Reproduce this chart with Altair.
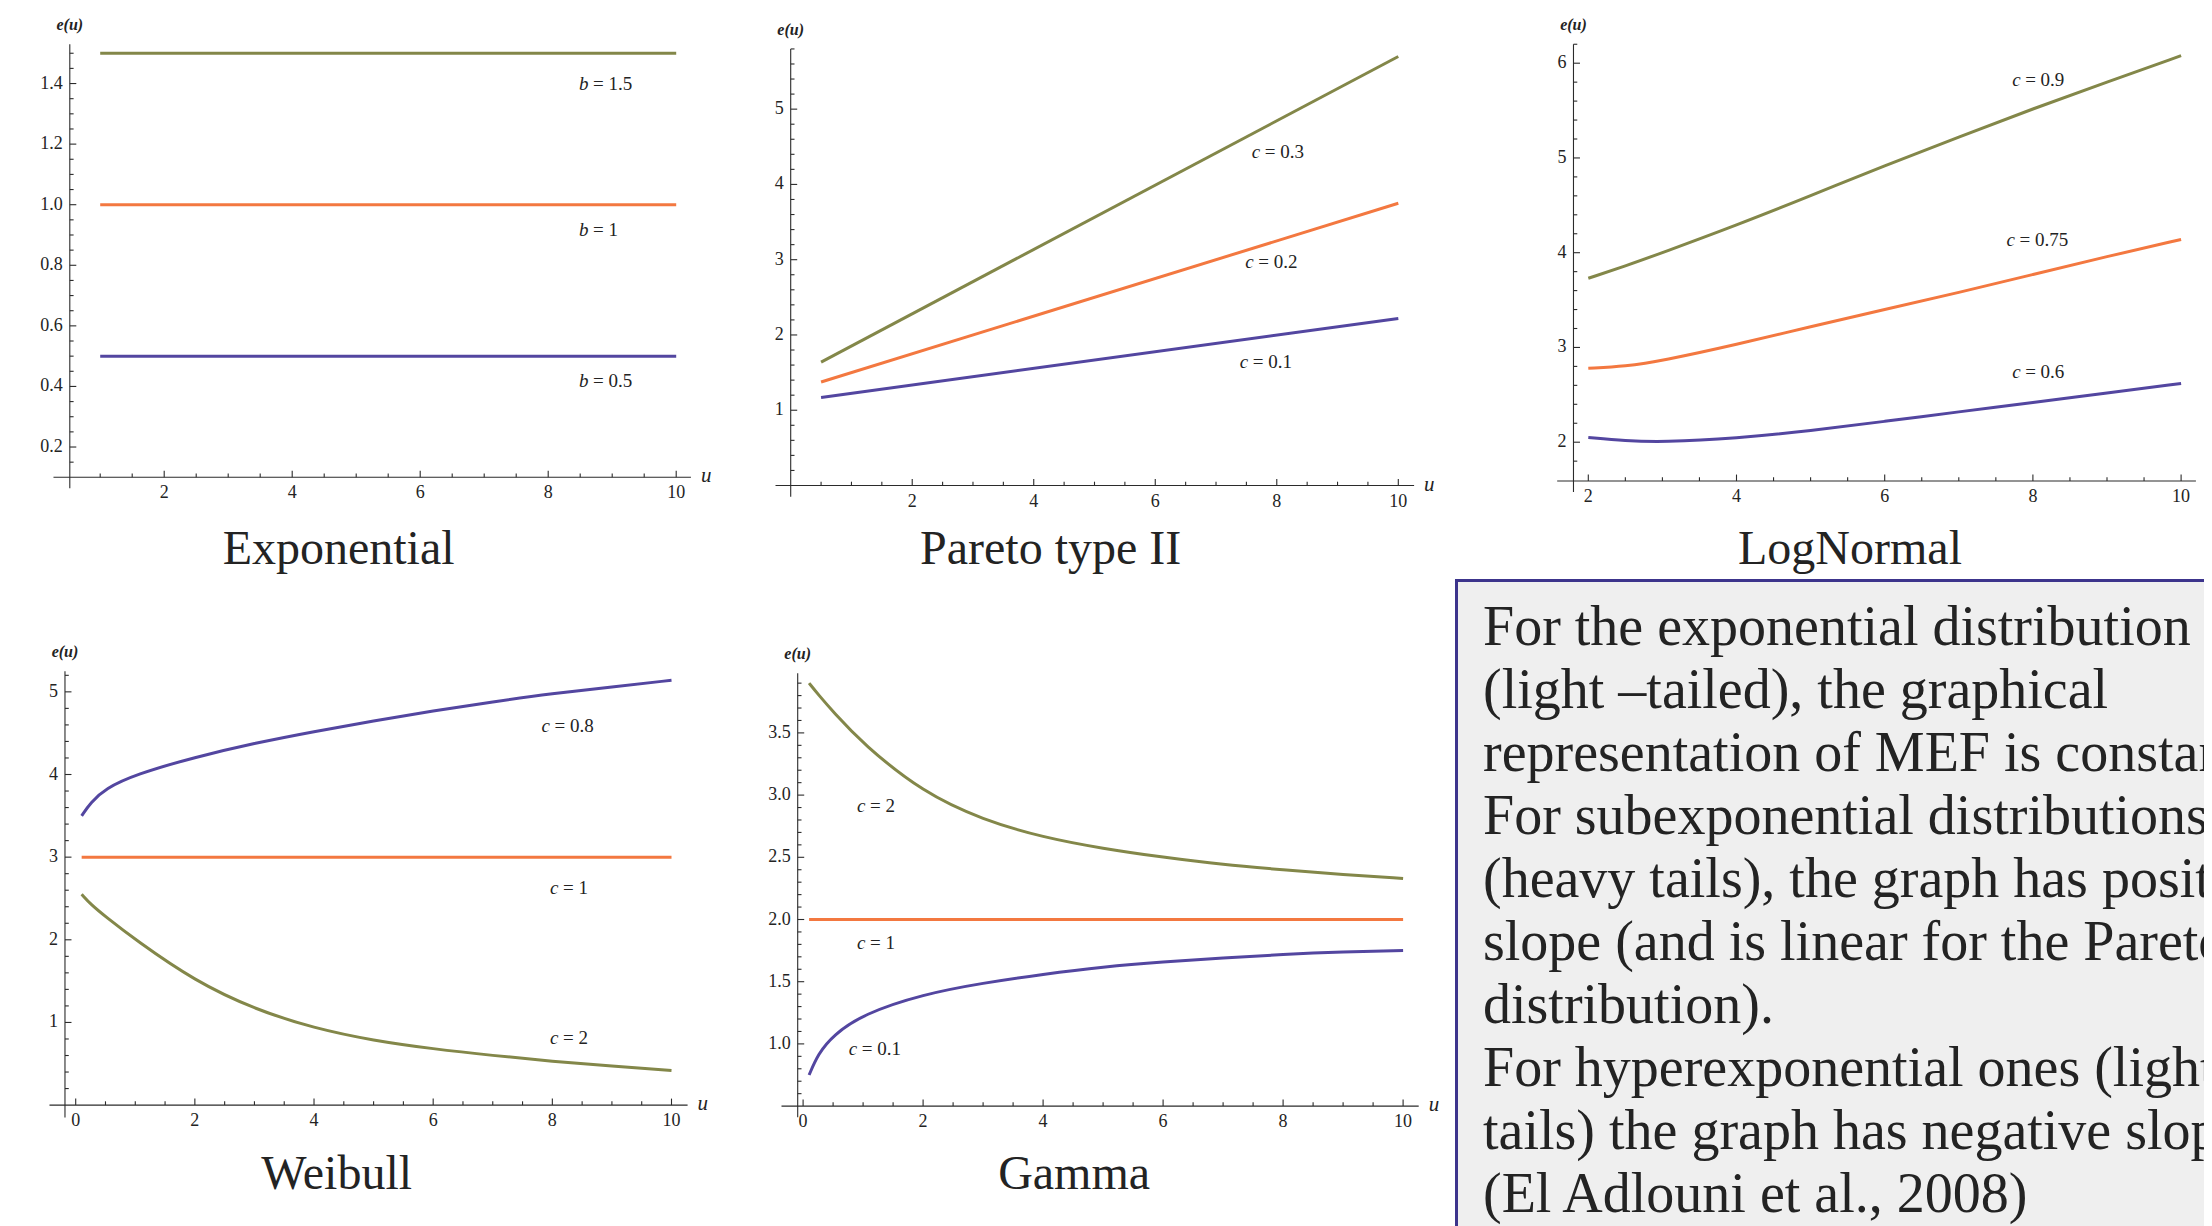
import altair as alt
import pandas as pd

FONT = "Liberation Serif"
INK = "#232323"
AX = "#2b2b2b"
OLIVE, ORANGE, BLUE = "#838749", "#f37840", "#5346a0"
BOX_FILL, BOX_EDGE = "#efefef", "#3c348c"

# ---------------- series values ----------------
exp_u = [1, 10]
exp_b15 = [1.5, 1.5]
exp_b1 = [1.0, 1.0]
exp_b05 = [0.5, 0.5]

par_u = [0.5, 10]
par_c03 = [1.64, 5.70]
par_c02 = [1.375, 3.75]
par_c01 = [1.17, 2.22]

ln_u = [2, 2.5, 3, 4, 5, 6, 7, 8, 9, 10]
ln_c09 = [3.73, 3.86, 4.00, 4.29, 4.60, 4.92, 5.22, 5.52, 5.80, 6.08]
ln_c075 = [2.78, 2.80, 2.86, 3.03, 3.22, 3.40, 3.58, 3.77, 3.96, 4.14]
ln_c06 = [2.05, 2.015, 2.00, 2.04, 2.12, 2.22, 2.32, 2.42, 2.52, 2.62]

wb_u = [0.1, 0.25, 0.5, 1, 2, 3, 4, 5, 6, 7, 8, 9, 10]
wb_c08 = [3.50, 3.66, 3.83, 4.00, 4.21, 4.38, 4.52, 4.65, 4.77, 4.88, 4.98, 5.06, 5.14]
wb_c2 = [2.55, 2.43, 2.28, 2.00, 1.50, 1.16, 0.93, 0.78, 0.68, 0.60, 0.53, 0.47, 0.42]
wb_flat_u = [0.1, 10]
wb_c1 = [3.0, 3.0]

gm_u = [0.1, 0.25, 0.5, 1, 2, 3, 4, 5, 6, 7, 8, 9, 10]
gm_c2 = [3.90, 3.81, 3.67, 3.41, 3.02, 2.80, 2.66, 2.57, 2.50, 2.44, 2.40, 2.36, 2.33]
gm_c01 = [0.75, 0.92, 1.07, 1.24, 1.40, 1.49, 1.56, 1.62, 1.66, 1.69, 1.72, 1.74, 1.75]
gm_flat_u = [0.1, 10]
gm_c1 = [2.0, 2.0]

# ---------------- labels ----------------
exp_curve_labels = [("b", "= 1.5"), ("b", "= 1"), ("b", "= 0.5")]
par_curve_labels = [("c", "= 0.3"), ("c", "= 0.2"), ("c", "= 0.1")]
ln_curve_labels = [("c", "= 0.9"), ("c", "= 0.75"), ("c", "= 0.6")]
wb_curve_labels = [("c", "= 0.8"), ("c", "= 1"), ("c", "= 2")]
gm_curve_labels = [("c", "= 2"), ("c", "= 1"), ("c", "= 0.1")]

exp_xticks = [2, 4, 6, 8, 10]
exp_yticks = [0.2, 0.4, 0.6, 0.8, 1.0, 1.2, 1.4]
par_xticks = [2, 4, 6, 8, 10]
par_yticks = [1, 2, 3, 4, 5]
ln_xticks = [2, 4, 6, 8, 10]
ln_yticks = [2, 3, 4, 5, 6]
wb_xticks = [0, 2, 4, 6, 8, 10]
wb_yticks = [1, 2, 3, 4, 5]
gm_xticks = [0, 2, 4, 6, 8, 10]
gm_yticks = [1.0, 1.5, 2.0, 2.5, 3.0, 3.5]

panel_titles = ["Exponential", "Pareto type II", "LogNormal", "Weibull", "Gamma"]

box_lines = [
    "For the exponential distribution",
    "(light \u2013tailed), the graphical",
    "representation of MEF is constant.",
    "For subexponential distributions",
    "(heavy tails), the graph has positive",
    "slope (and is linear for the Pareto",
    "distribution).",
    "For hyperexponential ones (light",
    "tails) the graph has negative slope",
    "(El Adlouni et al., 2008)",
]


def steps(start, stop, step, skip=()):
    n = int(round((stop - start) / step))
    out = []
    for k in range(n + 1):
        v = round(start + k * step, 4)
        if all(abs(v - s) > 1e-6 for s in skip):
            out.append(v)
    return out


def fmt1(v):
    return f"{v:.1f}"


def fmti(v):
    return f"{int(v)}"


def panel(sp):
    L, T, W, H = sp["box"]
    a, b, c, d = sp["cal"]
    xs = alt.Scale(domain=[(L - a) / b, (L + W - a) / b], nice=False, zero=False)
    ys = alt.Scale(domain=[(c - T - H) / d, (c - T) / d], nice=False, zero=False)

    def X(f):
        return alt.X(f"{f}:Q", scale=xs, axis=None)

    def Y(f):
        return alt.Y(f"{f}:Q", scale=ys, axis=None)

    xa, ya = sp["origin"]
    x0, x1 = sp["xext"]
    y0, y1 = sp["yext"]

    rows = []
    for name, us, vs, col in sp["curves"]:
        for u, v in zip(us, vs):
            rows.append({"u": u, "v": v, "s": name, "col": col})
    curves = alt.Chart(pd.DataFrame(rows)).mark_line(
        strokeWidth=3, interpolate="basis", clip=True
    ).encode(x=X("u"), y=Y("v"), detail="s:N", color=alt.Color("col:N", scale=None))

    seg = [
        {"u": x0, "v": ya, "u2": x1, "v2": ya},
        {"u": xa, "v": y0, "u2": xa, "v2": y1},
    ]
    xmin = steps(sp["xminor"][0], sp["xminor"][1], sp["xminor"][2], sp["xticks"])
    ymin = steps(sp["yminor"][0], sp["yminor"][1], sp["yminor"][2], sp["yticks"])
    for t in sp["xticks"]:
        seg.append({"u": t, "v": ya, "u2": t, "v2": ya + 6.5 / d})
    for t in xmin:
        seg.append({"u": t, "v": ya, "u2": t, "v2": ya + 3.8 / d})
    for t in sp["yticks"]:
        seg.append({"u": xa, "v": t, "u2": xa + 6.5 / b, "v2": t})
    for t in ymin:
        seg.append({"u": xa, "v": t, "u2": xa + 3.8 / b, "v2": t})
    rules = alt.Chart(pd.DataFrame(seg)).mark_rule(
        color=AX, strokeWidth=1.1, clip=True
    ).encode(x=X("u"), y=Y("v"), x2=alt.X2("u2"), y2=alt.Y2("v2"))

    xl = pd.DataFrame({"u": sp["xticks"], "v": ya, "t": [fmti(v) for v in sp["xticks"]]})
    xtext = alt.Chart(xl).mark_text(
        font=FONT, fontSize=18, color=INK, baseline="top", dy=7, clip=True
    ).encode(x=X("u"), y=Y("v"), text="t:N")

    yl = pd.DataFrame({"u": xa, "v": sp["yticks"], "t": [sp["yfmt"](v) for v in sp["yticks"]]})
    ytext = alt.Chart(yl).mark_text(
        font=FONT, fontSize=18, color=INK, align="right", baseline="middle", dx=-7, clip=True
    ).encode(x=X("u"), y=Y("v"), text="t:N")

    eu = alt.Chart(pd.DataFrame([{"u": xa, "v": y1, "t": "e(u)"}])).mark_text(
        font=FONT, fontSize=16, fontStyle="italic", fontWeight="bold", color=INK,
        baseline="alphabetic", dy=-14, clip=True
    ).encode(x=X("u"), y=Y("v"), text="t:N")

    ul = alt.Chart(pd.DataFrame([{"u": x1, "v": ya, "t": "u"}])).mark_text(
        font=FONT, fontSize=21, fontStyle="italic", color=INK,
        align="left", baseline="alphabetic", dx=10, dy=5, clip=True
    ).encode(x=X("u"), y=Y("v"), text="t:N")

    lab = pd.DataFrame([
        {"u": p[0], "v": p[1], "l": txt[0], "r": txt[1]}
        for txt, p in zip(sp["labels"], sp["label_pos"])
    ])
    lab1 = alt.Chart(lab).mark_text(
        font=FONT, fontSize=19, fontStyle="italic", color=INK,
        align="left", baseline="middle", clip=True
    ).encode(x=X("u"), y=Y("v"), text="l:N")
    lab2 = alt.Chart(lab).mark_text(
        font=FONT, fontSize=19, color=INK, align="left", baseline="middle",
        dx=sp["label_gap"], clip=True
    ).encode(x=X("u"), y=Y("v"), text="r:N")

    ttl = alt.Chart(pd.DataFrame([{"u": sp["title_pos"][0], "v": sp["title_pos"][1],
                                   "t": sp["title"]}])).mark_text(
        font=FONT, fontSize=48, color=INK, align="center", baseline="alphabetic", clip=True
    ).encode(x=X("u"), y=Y("v"), text="t:N")

    return alt.layer(curves, rules, xtext, ytext, eu, ul, lab1, lab2, ttl).properties(
        width=W, height=H
    )


def box_panel(L, T, W, H):
    base0, lh = 645.0, 63.0
    xs = alt.Scale(domain=[0, 1], nice=False, zero=False)
    ys = alt.Scale(domain=[(T - base0) / lh, (T + H - base0) / lh], reverse=True,
                   nice=False, zero=False)
    xb = (1456.5 - L) / W
    yb = (580.4 - base0) / lh
    xt = (1483.0 - L) / W

    rect = alt.Chart(pd.DataFrame([{"x": xb, "x2": 2.0, "y": yb, "y2": 40.0}])).mark_rect(
        color=BOX_FILL, clip=True
    ).encode(
        x=alt.X("x:Q", scale=xs, axis=None), x2="x2", y=alt.Y("y:Q", scale=ys, axis=None), y2="y2"
    )
    edge = alt.Chart(pd.DataFrame([
        {"x": xb - 0.002, "x2": 2.0, "y": yb, "y2": yb},
        {"x": xb, "x2": xb, "y": yb - 0.02, "y2": 40.0},
    ])).mark_rule(color=BOX_EDGE, strokeWidth=3, clip=True).encode(
        x=alt.X("x:Q", scale=xs, axis=None), x2="x2", y=alt.Y("y:Q", scale=ys, axis=None), y2="y2"
    )
    txt = alt.Chart(pd.DataFrame({"i": list(range(len(box_lines))), "t": box_lines,
                                  "x": xt})).mark_text(
        font=FONT, fontSize=56, color=INK, align="left", baseline="alphabetic", clip=True
    ).encode(x=alt.X("x:Q", scale=xs, axis=None), y=alt.Y("i:Q", scale=ys, axis=None),
             text="t:N")
    return alt.layer(rect, edge, txt).properties(width=W, height=H)


R1T, R1H = 8, 570
R2T, R2H = 578, 648

specs = [
    dict(box=(8, R1T, 732, R1H), cal=(36.2, 64.0, 507.6, 302.9),
         origin=(0.525, 0.1), xext=(0.27, 10.23), yext=(0.064, 1.53),
         curves=[("b15", exp_u, exp_b15, OLIVE), ("b1", exp_u, exp_b1, ORANGE),
                 ("b05", exp_u, exp_b05, BLUE)],
         labels=exp_curve_labels, label_pos=[(8.48, 1.40), (8.48, 0.916), (8.48, 0.418)],
         label_gap=14, xticks=exp_xticks, xminor=(1, 9.5, 0.5), yticks=exp_yticks,
         yminor=(0.15, 1.5, 0.05), yfmt=fmt1, title=panel_titles[0],
         title_pos=(4.725, -0.186)),
    dict(box=(740, R1T, 740, R1H), cal=(790.7, 60.76, 485.5, 75.27),
         origin=(0.0, 0.0), xext=(-0.25, 10.26), yext=(-0.149, 5.80),
         curves=[("c03", par_u, par_c03, OLIVE), ("c02", par_u, par_c02, ORANGE),
                 ("c01", par_u, par_c01, BLUE)],
         labels=par_curve_labels, label_pos=[(7.59, 4.43), (7.48, 2.97), (7.39, 1.64)],
         label_gap=13, xticks=par_xticks, xminor=(0.5, 9.5, 0.5), yticks=par_yticks,
         yminor=(0.2, 5.8, 0.2), yfmt=fmti, title=panel_titles[1],
         title_pos=(4.279, -1.043)),
    dict(box=(1480, R1T, 724, R1H), cal=(1440.1, 74.1, 631.7, 94.75),
         origin=(1.8, 1.59), xext=(1.58, 10.2), yext=(1.475, 6.2),
         curves=[("c09", ln_u, ln_c09, OLIVE), ("c075", ln_u, ln_c075, ORANGE),
                 ("c06", ln_u, ln_c06, BLUE)],
         labels=ln_curve_labels, label_pos=[(7.72, 5.82), (7.645, 4.13), (7.72, 2.74)],
         label_gap=13, xticks=ln_xticks, xminor=(2.5, 9.5, 0.5), yticks=ln_yticks,
         yminor=(1.8, 6.2, 0.2), yfmt=fmti, title=panel_titles[2],
         title_pos=(5.532, 0.7145)),
    dict(box=(8, R2T, 732, R2H), cal=(75.7, 59.58, 1105.1, 82.65),
         origin=(-0.18, 0.0), xext=(-0.44, 10.27), yext=(-0.15, 5.25),
         curves=[("c08", wb_u, wb_c08, BLUE), ("c1", wb_flat_u, wb_c1, ORANGE),
                 ("c2", wb_u, wb_c2, OLIVE)],
         labels=wb_curve_labels, label_pos=[(7.82, 4.59), (7.96, 2.63), (7.96, 0.81)],
         label_gap=13, xticks=wb_xticks, xminor=(0.5, 9.5, 0.5), yticks=wb_yticks,
         yminor=(0.2, 5.2, 0.2), yfmt=fmti, title=panel_titles[3],
         title_pos=(4.381, -1.015)),
    dict(box=(740, R2T, 712, R2H), cal=(803.1, 60.0, 1168.3, 124.4),
         origin=(-0.09, 0.5), xext=(-0.36, 10.26), yext=(0.41, 3.98),
         curves=[("c2", gm_u, gm_c2, OLIVE), ("c1", gm_flat_u, gm_c1, ORANGE),
                 ("c01", gm_u, gm_c01, BLUE)],
         labels=gm_curve_labels, label_pos=[(0.90, 2.91), (0.90, 1.815), (0.76, 0.958)],
         label_gap=13, xticks=gm_xticks, xminor=(0.5, 9.5, 0.5), yticks=gm_yticks,
         yminor=(0.6, 3.9, 0.1), yfmt=fmt1, title=panel_titles[4],
         title_pos=(4.517, -0.166)),
]

p1, p2, p3, p4, p5 = [panel(s) for s in specs]
pbox = box_panel(1452, R2T, 752, R2H)

row1 = alt.hconcat(p1, p2, p3, spacing=0, bounds="flush")
row2 = alt.hconcat(p4, p5, pbox, spacing=0, bounds="flush")

chart = (
    alt.vconcat(row1, row2, spacing=0)
    .properties(padding=0, background="white")
    .configure_view(stroke=None)
)

chart.save("out.html", embed_options={"renderer": "svg", "actions": False})
